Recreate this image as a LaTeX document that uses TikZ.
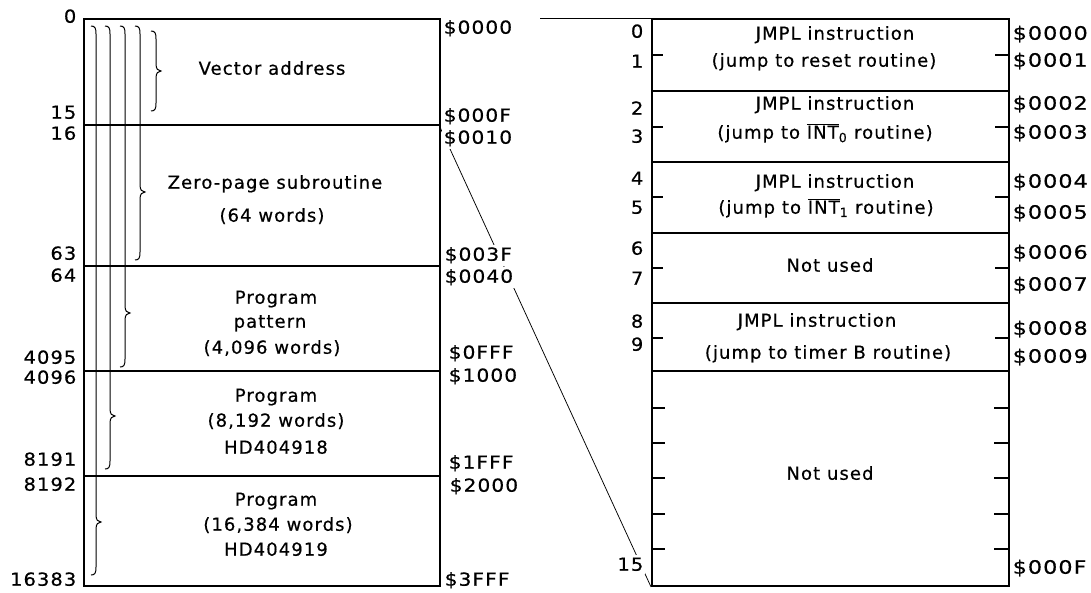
\documentclass[tikz,border=0pt]{standalone}
\usepackage{fontspec}
\setmainfont{DejaVu Sans}[LetterSpace=6,FakeBold=0.5]
\usetikzlibrary{backgrounds}

% curly brace opening to the right: x, top end, tip, bottom end
\newcommand\memBrace[4]{%
  \draw[bracepath] ({#1-5},{#2}) .. controls ({#1-1},{#2}) and ({#1},{#2+2}) .. ({#1},{#2+8})
    -- ({#1},{#3-7}) .. controls ({#1},{#3-2}) and ({#1+2},{#3}) .. ({#1+5},{#3})
    .. controls ({#1+2},{#3}) and ({#1},{#3+2}) .. ({#1},{#3+7})
    -- ({#1},{#4-8}) .. controls ({#1},{#4-2}) and ({#1-1},{#4}) .. ({#1-5},{#4});}

\begin{document}
\begin{tikzpicture}[x=1pt,y=-1pt,
  txt/.style={font=\fontsize{18}{22}\selectfont, inner sep=0pt, anchor=mid},
  num/.style={font=\fontsize{18}{22}\selectfont\addfontfeatures{FakeStretch=1.08},
    fill=white, inner xsep=1.5pt, inner ysep=2.5pt, anchor=mid east},
  addr/.style={font=\fontsize{18}{22}\selectfont\addfontfeatures{FakeStretch=1.12},
    fill=white, inner xsep=1.5pt, inner ysep=2.5pt, anchor=mid west},
  raddr/.style={font=\fontsize{18.5}{22}\selectfont\addfontfeatures{FakeStretch=1.2},
    inner xsep=1.5pt, inner ysep=2.5pt, anchor=mid west},
  outline/.style={draw, line width=1.9pt, inner sep=0pt, anchor=north west},
  divider/.style={line width=1.1pt},
  tick/.style={line width=1.2pt},
  bracepath/.style={line width=1pt},
  zoomline/.style={line width=0.75pt}]
\useasboundingbox (0,0) rectangle (1091,592);

% ---------------- program memory (left) ----------------
\node[outline, minimum width=356pt, minimum height=567pt] (L) at (83,18) {};
\foreach \yy in {125,266,371,476} \draw[divider] (83,\yy) -- (439,\yy);
\coordinate (dv) at (439,125);

\memBrace{156}{31}{71}{111}
\memBrace{140}{26}{192}{260}
\memBrace{125}{26}{313}{367}
\memBrace{110}{26}{416}{469}
\memBrace{96}{26}{522}{575}

\node[txt] (tva) at (272,72) {Vector address};
\node[txt] (tzp) at (275,186) {Zero-page subroutine};
\node[txt] (tzw) at (272,219) {(64 words)};
\node[txt] (tp1) at (276,301) {Program};
\node[txt] (tpt) at (270,325) {pattern};
\node[txt] (tw1) at (272,351) {(4,096 words)};
\node[txt] (tp2) at (276,399) {Program};
\node[txt] (tw2) at (276,424) {(8,192 words)};
\node[txt] (th2) at (276,451) {HD404918};
\node[txt] (tp3) at (276,503) {Program};
\node[txt] (tw3) at (278,528) {(16,384 words)};
\node[txt] (th3) at (276,553) {HD404919};

\node[num] (n0) at (78,20) {0};
\node[num] (n15) at (78,116) {15};
\node[num] (n16) at (78,137) {16};
\node[num] (n63) at (78,257) {63};
\node[num] (n64) at (78,279) {64};
\node[num] (n4095) at (78,361) {4095};
\node[num] (n4096) at (78,381) {4096};
\node[num] (n8191) at (78,463) {8191};
\node[num] (n8192) at (78,488) {8192};
\node[num] (n16383) at (78,583) {16383};

\node[addr] (a0000) at (442,31) {\$0000};
\node[addr] (a000F) at (442,119) {\$000F};
\node[addr] (a0010) at (442,141) {\$0010};
\node[addr] (a003F) at (443,258) {\$003F};
\node[addr] (a0040) at (443,280) {\$0040};
\node[addr] (a0FFF) at (447,356) {\$0FFF};
\node[addr] (a1000) at (447,379) {\$1000};
\node[addr] (a1FFF) at (447,466) {\$1FFF};
\node[addr] (a2000) at (448,489) {\$2000};
\node[addr] (a3FFF) at (443,583) {\$3FFF};

% ---------------- vector area (right) ----------------
\node[outline, minimum width=357pt, minimum height=567pt] (R) at (651,18) {};
\foreach \yy in {91,162,233,303,371} \draw[divider] (651,\yy) -- (1008,\yy);
\foreach \yy in {55,127,197,268,338} {
  \draw[tick] (651,\yy) -- (663,\yy);
  \draw[tick] (995,\yy) -- (1008,\yy);
}
\foreach \yy in {408,443,478,514,549} {
  \draw[tick] (651,\yy) -- (665,\yy);
  \draw[tick] (994,\yy) -- (1008,\yy);
}

\node[txt] (j0) at (835,37) {JMPL instruction};
\node[txt] (j0b) at (824,64) {(jump to reset routine)};
\node[txt] (j1) at (835,107) {JMPL instruction};
\node[txt] (j1b) at (825,136) {(jump to $\overline{\hbox{INT}}$\textsubscript{0} routine)};
\node[txt] (j2) at (835,185) {JMPL instruction};
\node[txt] (j2b) at (826,211) {(jump to $\overline{\hbox{INT}}$\textsubscript{1} routine)};
\node[txt] (nu1) at (830,269) {Not used};
\node[txt] (j3) at (817,324) {JMPL instruction};
\node[txt] (j3b) at (828,356) {(jump to timer B routine)};
\node[txt] (nu2) at (830,477) {Not used};

\node[num] (r0) at (645,35) {0};
\node[num] (r1) at (645,65) {1};
\node[num] (r2) at (645,112) {2};
\node[num] (r3) at (645,140) {3};
\node[num] (r4) at (645,182) {4};
\node[num] (r5) at (645,211) {5};
\node[num] (r6) at (645,252) {6};
\node[num] (r7) at (645,282) {7};
\node[num] (r8) at (645,325) {8};
\node[num] (r9) at (645,348) {9};
\node[num] (r15) at (645,568) {15};

\node[raddr] (b0000) at (1011,37) {\$0000};
\node[raddr] (b0001) at (1011,64) {\$0001};
\node[raddr] (b0002) at (1011,107) {\$0002};
\node[raddr] (b0003) at (1011,136) {\$0003};
\node[raddr] (b0004) at (1011,185) {\$0004};
\node[raddr] (b0005) at (1011,216) {\$0005};
\node[raddr] (b0006) at (1011,256) {\$0006};
\node[raddr] (b0007) at (1011,288) {\$0007};
\node[raddr] (b0008) at (1011,332) {\$0008};
\node[raddr] (b0009) at (1011,360) {\$0009};
\node[raddr] (b000F) at (1011,571) {\$000F};

% ---------------- expansion lines ----------------
\coordinate (zs) at (540,18);
\begin{scope}[on background layer]
  \draw[zoomline] (zs) -- (R.north west);
  \draw[zoomline] (dv) -- (R.south west);
\end{scope}
\end{tikzpicture}
\end{document}
